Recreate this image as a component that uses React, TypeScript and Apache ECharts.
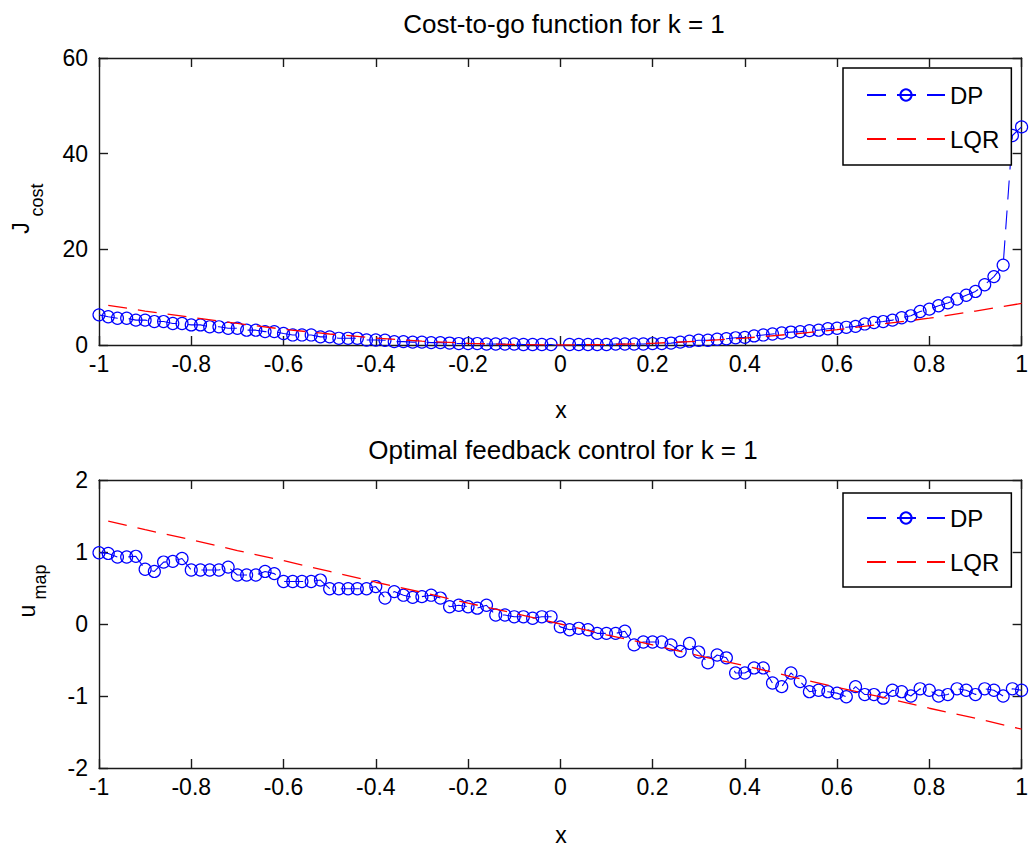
import React, { useEffect, useRef } from "react";
import * as echarts from "echarts";

const X_GRID = [
  -1.0, -0.98, -0.96, -0.94, -0.92, -0.9, -0.88, -0.86, -0.84, -0.82,
  -0.8, -0.78, -0.76, -0.74, -0.72, -0.7, -0.68, -0.66, -0.64, -0.62,
  -0.6, -0.58, -0.56, -0.54, -0.52, -0.5, -0.48, -0.46, -0.44, -0.42,
  -0.4, -0.38, -0.36, -0.34, -0.32, -0.3, -0.28, -0.26, -0.24, -0.22,
  -0.2, -0.18, -0.16, -0.14, -0.12, -0.1, -0.08, -0.06, -0.04, -0.02,
  0.0, 0.02, 0.04, 0.06, 0.08, 0.1, 0.12, 0.14, 0.16, 0.18,
  0.2, 0.22, 0.24, 0.26, 0.28, 0.3, 0.32, 0.34, 0.36, 0.38,
  0.4, 0.42, 0.44, 0.46, 0.48, 0.5, 0.52, 0.54, 0.56, 0.58,
  0.6, 0.62, 0.64, 0.66, 0.68, 0.7, 0.72, 0.74, 0.76, 0.78,
  0.8, 0.82, 0.84, 0.86, 0.88, 0.9, 0.92, 0.94, 0.96, 0.98,
  1.0,
];

const DP_COST = [
  6.3, 5.9, 5.6, 5.6, 5.2, 5.2, 4.9, 4.9, 4.5, 4.5,
  4.2, 4.2, 3.8, 3.8, 3.5, 3.5, 3.1, 3.1, 2.8, 2.8,
  2.4, 2.1, 2.1, 2.1, 1.7, 1.7, 1.4, 1.4, 1.4, 1.05,
  1.05, 1.0, 0.7, 0.7, 0.6, 0.6, 0.5, 0.5, 0.4, 0.3,
  0.3, 0.3, 0.2, 0.2, 0.2, 0.2, 0.1, 0.1, 0.1, 0.1,
  -0.2, 0.1, 0.1, 0.1, 0.1, 0.1, 0.2, 0.2, 0.2, 0.2,
  0.3, 0.3, 0.4, 0.6, 0.8, 1.0, 1.0, 1.2, 1.3, 1.5,
  1.6, 1.9, 2.1, 2.3, 2.5, 2.7, 2.8, 3.0, 3.1, 3.4,
  3.5, 3.7, 3.9, 4.4, 4.7, 4.9, 5.2, 5.7, 6.1, 7.0,
  7.5, 8.2, 8.8, 9.6, 10.4, 11.2, 12.6, 14.3, 16.7, 43.8,
  45.6,
];

const DP_CONTROL = [
  0.99, 0.98, 0.93, 0.93, 0.94, 0.76, 0.73, 0.86, 0.87, 0.91,
  0.75, 0.75, 0.75, 0.75, 0.79, 0.68, 0.68, 0.68, 0.73, 0.7,
  0.59, 0.59, 0.59, 0.59, 0.61, 0.49, 0.49, 0.49, 0.49, 0.49,
  0.52, 0.36, 0.45, 0.4, 0.37, 0.38, 0.4, 0.36, 0.24, 0.26,
  0.24, 0.22, 0.26, 0.125, 0.125, 0.1, 0.1, 0.08, 0.1, 0.1,
  -0.04, -0.08, -0.06, -0.08, -0.13, -0.13, -0.13, -0.1, -0.29, -0.25,
  -0.25, -0.25, -0.29, -0.38, -0.27, -0.39, -0.54, -0.43, -0.47, -0.68,
  -0.68, -0.61, -0.61, -0.82, -0.87, -0.68, -0.8, -0.94, -0.92, -0.94,
  -0.96, -1.01, -0.87, -0.98, -0.98, -1.03, -0.92, -0.94, -1.0, -0.9,
  -0.92, -1.0, -0.98, -0.9, -0.92, -0.98, -0.9, -0.92, -1.0, -0.9,
  -0.92,
];

const LQR_X = [
  -0.98, -0.9, -0.8, -0.7, -0.6, -0.5, -0.4, -0.3, -0.2, -0.1, 0.0,
  0.1, 0.2, 0.3, 0.4, 0.5, 0.6, 0.7, 0.8, 0.9, 1.0,
];
const LQR_COST = [
  8.3, 7.1, 5.8, 4.5, 3.3, 2.3, 1.45, 0.8, 0.35, 0.1, 0.0,
  0.1, 0.35, 0.8, 1.45, 2.25, 3.2, 4.4, 5.6, 7.1, 8.7,
];
const LQR_CONTROL = [
  1.43, 1.31, 1.17, 1.02, 0.88, 0.73, 0.58, 0.44, 0.29, 0.15, 0.0,
  -0.15, -0.29, -0.44, -0.58, -0.73, -0.88, -1.02, -1.17, -1.31, -1.46,
];

const TITLES = ["Cost-to-go function for k = 1", "Optimal feedback control for k = 1"];
const SERIES_NAMES = ["DP", "LQR"];
const X_NAME = "x";

const FONT = "'Liberation Sans', Arial, Helvetica, sans-serif";
const FS = 23;
const AXIS_COLOR = "#1a1a1a";
const DASH = [19, 11];

function xAxis(gridIndex: number, position: "bottom" | "top", labels: boolean) {
  return {
    type: "value",
    gridIndex,
    position,
    min: -1,
    max: 1,
    interval: 0.2,
    axisLine: { show: true, onZero: false, lineStyle: { color: AXIS_COLOR, width: 1.4 } },
    axisTick: { show: true, inside: true, length: 9, lineStyle: { color: AXIS_COLOR, width: 1.4 } },
    axisLabel: { show: labels, margin: 7, color: "#000", fontSize: FS, fontFamily: FONT },
    splitLine: { show: false },
  };
}

function yAxis(gridIndex: number, position: "left" | "right", labels: boolean, min: number, max: number, interval: number) {
  return {
    type: "value",
    gridIndex,
    position,
    min,
    max,
    interval,
    axisLine: { show: true, onZero: false, lineStyle: { color: AXIS_COLOR, width: 1.4 } },
    axisTick: { show: true, inside: true, length: 9, lineStyle: { color: AXIS_COLOR, width: 1.4 } },
    axisLabel: { show: labels, margin: 11, color: "#000", fontSize: FS, fontFamily: FONT },
    splitLine: { show: false },
  };
}

function legend(top: number, padTop: number, padBottom: number) {
  return {
    data: [
      { name: SERIES_NAMES[0] },
      { name: SERIES_NAMES[1], itemStyle: { color: "rgba(0,0,0,0)", borderWidth: 0, opacity: 0 } },
    ],
    orient: "vertical",
    left: 843,
    top,
    padding: [padTop, 12, padBottom, 23],
    itemGap: 20,
    itemWidth: 78,
    itemHeight: 14,
    selectedMode: false,
    backgroundColor: "#fff",
    borderColor: "#000",
    borderWidth: 1.5,
    textStyle: { color: "#000", fontSize: 24, fontFamily: FONT },
  };
}

function dpSeries(name: string, values: number[], xi: number, yi: number) {
  return {
    name,
    type: "line",
    xAxisIndex: xi,
    yAxisIndex: yi,
    data: X_GRID.map((x, i) => [x, values[i]]),
    symbol: "circle",
    symbolSize: 12,
    showAllSymbol: true,
    lineStyle: { color: "#0000ff", width: 1.1, type: DASH },
    itemStyle: { color: "rgba(0,0,0,0)", borderColor: "#0000ff", borderWidth: 1.2 },
    emphasis: { disabled: true },
    z: 2,
  };
}

function lqrSeries(name: string, values: number[], xi: number, yi: number) {
  return {
    name,
    type: "line",
    xAxisIndex: xi,
    yAxisIndex: yi,
    data: LQR_X.map((x, i) => [x, values[i]]),
    symbol: "none",
    lineStyle: { color: "#ff0000", width: 1.3, type: DASH },
    itemStyle: { color: "#ff0000" },
    emphasis: { disabled: true },
    z: 3,
  };
}

function rotText(x: number, y: number, text: string, size: number) {
  return {
    type: "text",
    x,
    y,
    rotation: Math.PI / 2,
    style: { text, fill: "#000", fontSize: size, fontFamily: FONT, align: "center", verticalAlign: "middle" },
  };
}

function hText(x: number, y: number, text: string, size: number) {
  return {
    type: "text",
    x,
    y,
    style: { text, fill: "#000", fontSize: size, fontFamily: FONT, align: "center", verticalAlign: "middle" },
  };
}

export default function App() {
  const ref = useRef<HTMLDivElement>(null);
  useEffect(() => {
    const chart = echarts.init(ref.current!, null, { renderer: "svg" });
    const titleStyle = { color: "#000", fontSize: 26, fontWeight: "normal", fontFamily: FONT };
    const option: any = {
      animation: false,
      backgroundColor: "#fff",
      title: [
        { text: TITLES[0], left: 559, top: 6, textAlign: "center", textStyle: titleStyle },
        { text: TITLES[1], left: 558, top: 432, textAlign: "center", textStyle: titleStyle },
      ],
      grid: [
        { left: 99, top: 58, width: 925, height: 287 },
        { left: 99, top: 480, width: 925, height: 288 },
      ],
      xAxis: [
        xAxis(0, "bottom", true),
        xAxis(0, "top", false),
        xAxis(1, "bottom", true),
        xAxis(1, "top", false),
      ],
      yAxis: [
        yAxis(0, "left", true, 0, 60, 20),
        yAxis(0, "right", false, 0, 60, 20),
        yAxis(1, "left", true, -2, 2, 1),
        yAxis(1, "right", false, -2, 2, 1),
      ],
      legend: [legend(68, 15, 14), legend(493, 13, 13)],
      series: [
        dpSeries(SERIES_NAMES[0], DP_COST, 0, 0),
        lqrSeries(SERIES_NAMES[1], LQR_COST, 0, 0),
        dpSeries(SERIES_NAMES[0], DP_CONTROL, 2, 2),
        lqrSeries(SERIES_NAMES[1], LQR_CONTROL, 2, 2),
      ],
      graphic: [
        hText(561, 410, X_NAME, FS),
        hText(561, 835, X_NAME, FS),
        rotText(21, 228, "J", FS),
        rotText(37, 200, "cost", 18),
        rotText(27, 611, "u", FS),
        rotText(40, 582, "map", 18),
      ],
    };
    chart.setOption(option);
    return () => chart.dispose();
  }, []);
  return (
    <div
      ref={ref}
      style={{ position: "fixed", left: 0, top: 0, width: 1031, height: 848, background: "#fff" }}
    />
  );
}
